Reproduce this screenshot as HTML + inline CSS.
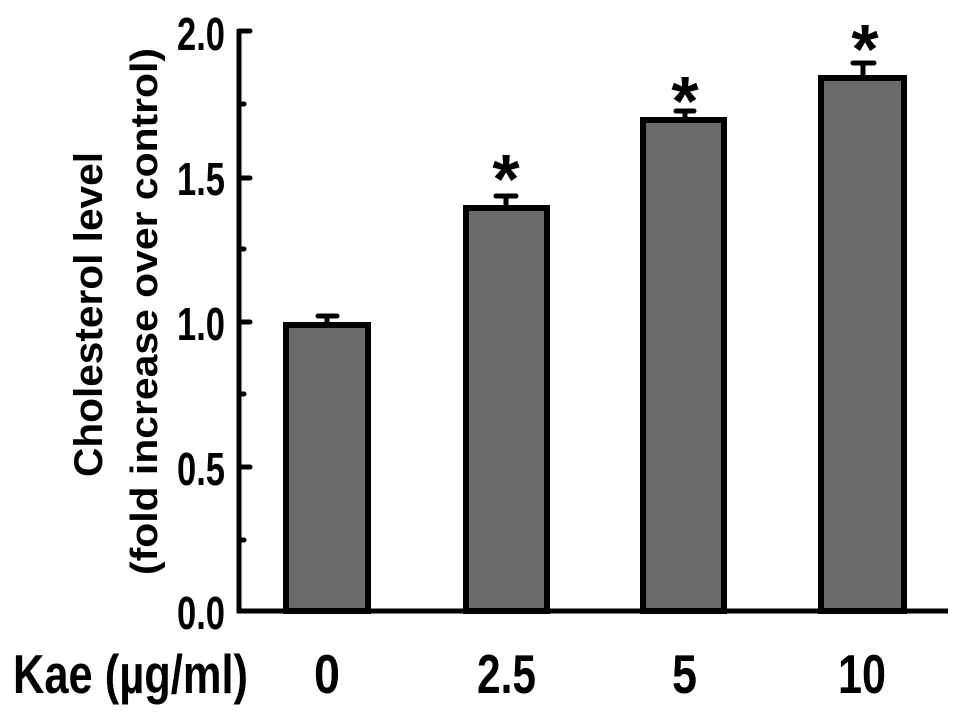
<!DOCTYPE html>
<html><head><meta charset="utf-8"><style>
html,body{margin:0;padding:0;background:#fff;}
svg{display:block;}
text{font-family:"Liberation Sans",Arial,sans-serif;font-weight:bold;fill:#000;}
</style></head><body>
<svg width="969" height="718" viewBox="0 0 969 718" xmlns="http://www.w3.org/2000/svg">
<rect width="969" height="718" fill="#fff"/>
<!-- bars -->
<g fill="#6b6b6b" stroke="#000" stroke-width="6">
<rect x="286" y="325" width="82" height="286"/>
<rect x="466" y="208" width="81" height="403"/>
<rect x="643" y="120" width="81" height="491"/>
<rect x="821" y="78" width="83" height="533"/>
</g>
<!-- error bars -->
<g stroke="#000" stroke-width="5" stroke-linecap="round">
<line x1="327" y1="316" x2="327" y2="324"/><line x1="318" y1="316" x2="337" y2="316"/>
<line x1="506" y1="196" x2="506" y2="206"/><line x1="496" y1="196" x2="516" y2="196"/>
<line x1="685" y1="111" x2="685" y2="118"/><line x1="676" y1="111" x2="694" y2="111"/>
<line x1="863" y1="63" x2="863" y2="76"/><line x1="853" y1="63" x2="874" y2="63"/>
</g>
<!-- stars -->
<g font-size="70" text-anchor="middle">
<text x="506" y="203">*</text>
<text x="685" y="125">*</text>
<text x="865" y="73">*</text>
</g>
<!-- axes -->
<g stroke="#000" stroke-width="5">
<line x1="239" y1="29" x2="239" y2="613"/>
<line x1="237" y1="611" x2="948" y2="611"/>
</g>
<g stroke="#000" stroke-width="5" stroke-linecap="round">
<line x1="239" y1="31" x2="250" y2="31"/>
<line x1="239" y1="178" x2="250" y2="178"/>
<line x1="239" y1="322" x2="250" y2="322"/>
<line x1="239" y1="467" x2="250" y2="467"/>
<line x1="239" y1="104" x2="244" y2="104"/>
<line x1="239" y1="249" x2="244" y2="249"/>
<line x1="239" y1="394" x2="244" y2="394"/>
<line x1="239" y1="540" x2="244" y2="540"/>
</g>
<!-- y tick labels -->
<g font-size="46">
<text x="177" y="50" textLength="48" lengthAdjust="spacingAndGlyphs">2.0</text>
<text x="177" y="195" textLength="48" lengthAdjust="spacingAndGlyphs">1.5</text>
<text x="177" y="340" textLength="48" lengthAdjust="spacingAndGlyphs">1.0</text>
<text x="177" y="485" textLength="48" lengthAdjust="spacingAndGlyphs">0.5</text>
<text x="177" y="629" textLength="48" lengthAdjust="spacingAndGlyphs">0.0</text>
</g>
<!-- x labels -->
<g font-size="55">
<text x="13" y="693" textLength="235" lengthAdjust="spacingAndGlyphs">Kae (µg/ml)</text>
<text x="314" y="693" textLength="26" lengthAdjust="spacingAndGlyphs">0</text>
<text x="477" y="693" textLength="59" lengthAdjust="spacingAndGlyphs">2.5</text>
<text x="672" y="693" textLength="25" lengthAdjust="spacingAndGlyphs">5</text>
<text x="838" y="693" textLength="48" lengthAdjust="spacingAndGlyphs">10</text>
</g>
<!-- y axis title -->
<text font-size="40" transform="translate(102,477) rotate(-90)" textLength="325" lengthAdjust="spacingAndGlyphs">Cholesterol level</text>
<text font-size="38" transform="translate(157,575) rotate(-90)" textLength="527" lengthAdjust="spacingAndGlyphs">(fold increase over control)</text>
</svg>
</body></html>
